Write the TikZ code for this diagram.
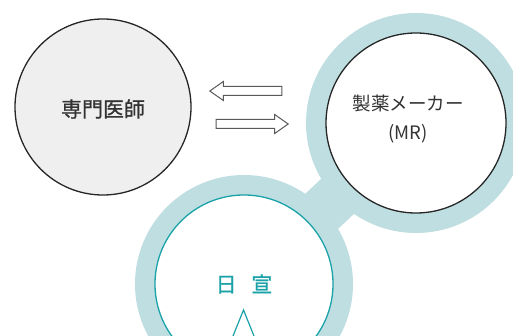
\documentclass[tikz,border=0pt]{standalone}
\usepackage{fontspec}
\newfontfamily\jpfont{Noto Sans CJK JP}
\newfontfamily\jpmed[FakeBold=0.9]{Noto Sans CJK JP}
\usetikzlibrary{shapes.arrows}

\definecolor{ringteal}{RGB}{190,222,225}
\definecolor{lineteal}{RGB}{26,162,168}
\definecolor{docgray}{RGB}{239,239,239}
\definecolor{txtgray}{RGB}{51,51,51}

\tikzset{
  ring/.style={circle, fill=ringteal, inner sep=0pt, minimum size=#1},
  party/.style={circle, draw=black!85, line width=1.3pt, inner sep=0pt, minimum size=#1},
  flow/.style={single arrow, draw=black!65, fill=white, line width=1pt,
    inner xsep=0pt, inner ysep=4pt, minimum height=72pt,
    single arrow head extend=5pt, single arrow tip angle=70},
  jplabel/.style={font=\jpfont, text=txtgray}
}

\begin{document}
\begin{tikzpicture}[x=1pt,y=-1pt]
\useasboundingbox (0,0) rectangle (513,336);

% teal rings and the bar between them
\node[ring=220pt] (mrring) at (416,123) {};
\node[ring=218pt] (nsring) at (244,284) {};
\draw[ringteal, line width=48pt] (mrring.center) -- (nsring.center);

% circles
\node[party=176pt, fill=docgray] (doc) at (103,107) {};
\node[party=180pt, fill=white] (mr) at (416,123) {};
\node[circle, draw=lineteal, line width=1.3pt, fill=white, inner sep=0pt,
  minimum size=178pt] (ns) at (244,284) {};

% labels
\node[jplabel, font=\jpmed\fontsize{21}{25}\selectfont] (doclabel) at (103,109) {専門医師};
\node[jplabel, font=\jpfont\fontsize{18.5}{29}\selectfont, align=center] (mrlabel)
  at (408,119) {製薬メーカー\\(MR)};
\node[font=\jpmed\fontsize{21}{25}\selectfont, text=lineteal] (nslabel)
  at (244,284) {日\hspace{0.7em}宣};

% exchange arrows
\node[flow, shape border rotate=180] (toDoc) at (249,91) {};
\node[flow] (toMR) at (249,124) {};

% pointer below the label
\coordinate (tipL) at (233,336);
\coordinate (tipR) at (254,336);
\coordinate (apex) at (243.5,310);
\draw[lineteal, line width=1.2pt] (tipL) -- (apex) -- (tipR);

\end{tikzpicture}
\end{document}
